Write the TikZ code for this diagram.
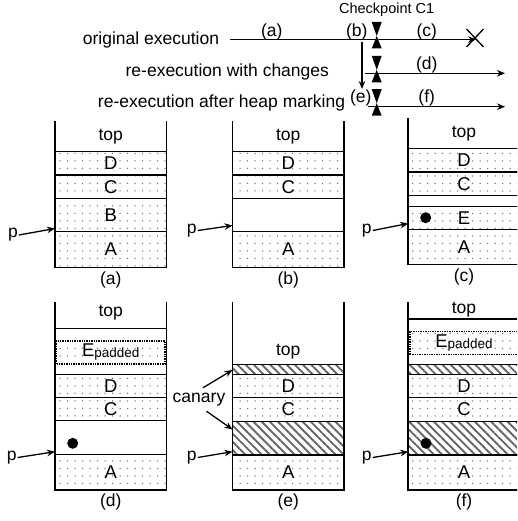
\documentclass[tikz,border=0pt]{standalone}
\usepackage{fontspec}
\setmainfont{Liberation Sans}
\usetikzlibrary{arrows.meta,patterns.meta}
\begin{document}
\begin{tikzpicture}[x=1pt,y=-1pt,
  txt/.style={inner sep=0pt, font=\fontsize{17.5}{20}\selectfont},
  small/.style={inner sep=0pt, font=\fontsize{14.5}{17}\selectfont},
  wall/.style={line width=1.7pt},
  tl/.style={line width=1.3pt},
  arr/.style={line width=1.3pt, -{Stealth[length=8pt,width=6.5pt]}},
  blk/.style={draw, line width=1.7pt, rectangle, inner sep=0pt, outer sep=0pt, anchor=north west,
    minimum width=111.5pt, font=\fontsize{18.5}{20}\selectfont},
  dotbox/.style={blk, pattern={Dots[distance=7.5pt,radius=0.75pt]}, pattern color=black!55},
  hatchbox/.style={blk, pattern={Lines[angle=-45,distance=5.8pt,line width=1.9pt]}, pattern color=black!60},
  plainbox/.style={blk},
  padbox/.style={draw, densely dotted, line width=1.4pt, rectangle, inner sep=0pt, outer sep=0pt, anchor=north west,
    minimum width=108.5pt, minimum height=23pt, font=\fontsize{18.5}{20}\selectfont,
    pattern={Dots[distance=7.5pt,radius=0.75pt]}, pattern color=black!55},
  ball/.style={circle, fill=black, inner sep=0pt, minimum size=11pt},
  ckpt/.pic={
    \fill (-5,-17.5) -- (5,-17.5) -- (0,-3.5) -- cycle;
    \fill (-5,9) -- (5,9) -- (0,-3.5) -- cycle;
  }
]
\path[use as bounding box] (0,0) rectangle (517,521);
\clip (0,0) rectangle (517,521);

% ---------- timeline ----------
\node[small] (cp) at (386.7,10) {Checkpoint C1};
\node[txt] (oe) at (151,40) {original execution};
\coordinate (l1s) at (230,39.5);
\coordinate (l1e) at (476,39.5);
\draw[arr] (l1s) -- (l1e);
\coordinate (xc) at (475,38);
\draw[tl] ([shift={(-8.5,-9)}]xc) -- ([shift={(8.5,9)}]xc);
\draw[tl] ([shift={(-8.5,9)}]xc) -- ([shift={(8.5,-9)}]xc);
\node[txt] (la) at (271.7,31.5) {(a)};
\node[txt] (lb) at (356.7,31.5) {(b)};
\node[txt] (lc) at (426.7,31.5) {(c)};
\pic at (376.7,39.5) {ckpt};

\node[txt] (rc) at (227.3,71.7) {re-execution with changes};
\coordinate (l2s) at (365,73.3);
\coordinate (l2e) at (505,73.3);
\draw[arr] (l2s) -- (l2e);
\node[txt] (ld) at (426.7,65) {(d)};
\pic at (376.7,73.3) {ckpt};

\node[txt] (rh) at (221.5,103.3) {re-execution after heap marking};
\coordinate (l3s) at (368,106.7);
\coordinate (l3e) at (505,106.7);
\draw[arr] (l3s) -- (l3e);
\node[txt] (le) at (360.7,98.3) {(e)};
\node[txt] (lf) at (426.7,98.3) {(f)};
\pic at (376.7,106.7) {ckpt};

\coordinate (vs) at (362,42);
\coordinate (ve) at (362,89);
\draw[arr] (vs) -- (ve);

% ---------- stack (a) ----------
\draw[wall] (55,121) -- (55,267.5);
\draw[wall] (166.5,121) -- (166.5,267.5);
\node[txt] (atop) at (110.75,137) {top};
\node[dotbox, minimum height=23.5pt] (aD) at (55,151.5) {D};
\node[dotbox, minimum height=23.5pt] (aC) at (55,175) {C};
\node[dotbox, minimum height=33pt] (aB) at (55,198.5) {B};
\node[dotbox, minimum height=36pt] (aA) at (55,231.5) {A};
\node[txt] (acap) at (110.75,279.5) {(a)};
\node[txt] (pa) at (13,235) {p};
\coordinate (ta) at (55,228.5);
\draw[arr] ([xshift=1pt]pa.east) -- (ta);

% ---------- stack (b) ----------
\draw[wall] (232.5,121) -- (232.5,267.5);
\draw[wall] (344,121) -- (344,267.5);
\node[txt] (btop) at (288.25,137) {top};
\node[dotbox, minimum height=23.5pt] (bD) at (232.5,151.5) {D};
\node[dotbox, minimum height=23.5pt] (bC) at (232.5,175) {C};
\node[dotbox, minimum height=36pt] (bA) at (232.5,231.5) {A};
\node[txt] (bcap) at (288.25,280) {(b)};
\node[txt] (pb) at (191.7,230.5) {p};
\coordinate (tb) at (232.5,225.5);
\draw[arr] ([xshift=1pt]pb.east) -- (tb);

% ---------- stack (c) ----------
\draw[wall] (408.3,118) -- (408.3,264.5);
\draw[wall] (519.8,118) -- (519.8,264.5);
\node[txt] (ctop) at (464,134) {top};
\node[dotbox, minimum height=23.5pt] (cD) at (408.3,148.5) {D};
\node[dotbox, minimum height=23.5pt] (cC) at (408.3,172) {C};
\node[dotbox, minimum height=23pt] (cE) at (408.3,206.5) {E};
\node[dotbox, minimum height=35pt] (cA) at (408.3,229.5) {A};
\node[ball] (cdot) at (425.7,217.7) {};
\node[txt] (ccap) at (464,276.5) {(c)};
\node[txt] (pc) at (366.7,230.5) {p};
\coordinate (tc) at (408.3,223.5);
\draw[arr] ([xshift=1pt]pc.east) -- (tc);

% ---------- stack (d) ----------
\draw[wall] (55,302) -- (55,490);
\draw[wall] (166.5,302) -- (166.5,490);
\node[txt] (dtop) at (110.75,313) {top};
\node[plainbox, minimum height=46pt] (dO) at (55,328.5) {};
\node[padbox] (dE) at (56.5,341) {E\raisebox{-1pt}{\fontsize{13.5}{15}\selectfont padded}};
\node[dotbox, minimum height=23pt] (dD) at (55,374.5) {D};
\node[dotbox, minimum height=23pt] (dC) at (55,397.5) {C};
\node[dotbox, minimum height=35.5pt] (dA) at (55,454.5) {A};
\node[ball] (ddot) at (72.7,443.3) {};
\node[txt] (dcap) at (110.75,502) {(d)};
\node[txt] (pd) at (11.7,457.5) {p};
\coordinate (td) at (55,451.7);
\draw[arr] ([xshift=1pt]pd.east) -- (td);

% ---------- stack (e) ----------
\draw[wall] (232.5,302) -- (232.5,490);
\draw[wall] (344,302) -- (344,490);
\node[txt] (etop) at (288.25,351.5) {top};
\node[hatchbox, minimum height=10pt] (eK1) at (232.5,364.5) {};
\node[dotbox, minimum height=23pt] (eD) at (232.5,374.5) {D};
\node[dotbox, minimum height=24pt] (eC) at (232.5,397.5) {C};
\node[hatchbox, minimum height=33.5pt] (eK2) at (232.5,421.5) {};
\node[dotbox, minimum height=35pt] (eA) at (232.5,455) {A};
\node[txt] (ecap) at (288.25,502) {(e)};
\node[txt] (can) at (199,399.5) {canary};
\coordinate (tk1) at (232.5,370);
\coordinate (tk2) at (232.5,429.5);
\draw[arr] ([shift={(4,-5)}]can.north) -- (tk1);
\draw[arr] ([shift={(7.5,5)}]can.south) -- (tk2);
\node[txt] (pe) at (191.7,457.5) {p};
\coordinate (te) at (232.5,451.7);
\draw[arr] ([xshift=1pt]pe.east) -- (te);

% ---------- stack (f) ----------
\draw[wall] (408.3,302) -- (408.3,490);
\draw[wall] (519.8,302) -- (519.8,490);
\node[txt] (ftop) at (464,310) {top};
\node[plainbox, minimum height=45.5pt] (fO) at (408.3,319) {};
\node[padbox] (fE) at (409.8,331.5) {E\raisebox{-1pt}{\fontsize{13.5}{15}\selectfont padded}};
\node[hatchbox, minimum height=10pt] (fK1) at (408.3,364.5) {};
\node[dotbox, minimum height=23pt] (fD) at (408.3,374.5) {D};
\node[dotbox, minimum height=24pt] (fC) at (408.3,397.5) {C};
\node[hatchbox, minimum height=33.5pt] (fK2) at (408.3,421.5) {};
\node[dotbox, minimum height=35pt] (fA) at (408.3,455) {A};
\node[ball] (fdot) at (426,443.3) {};
\node[txt] (fcap) at (464,502) {(f)};
\node[txt] (pf) at (366.7,457.5) {p};
\coordinate (tf) at (408.3,451.7);
\draw[arr] ([xshift=1pt]pf.east) -- (tf);
\end{tikzpicture}
\end{document}
